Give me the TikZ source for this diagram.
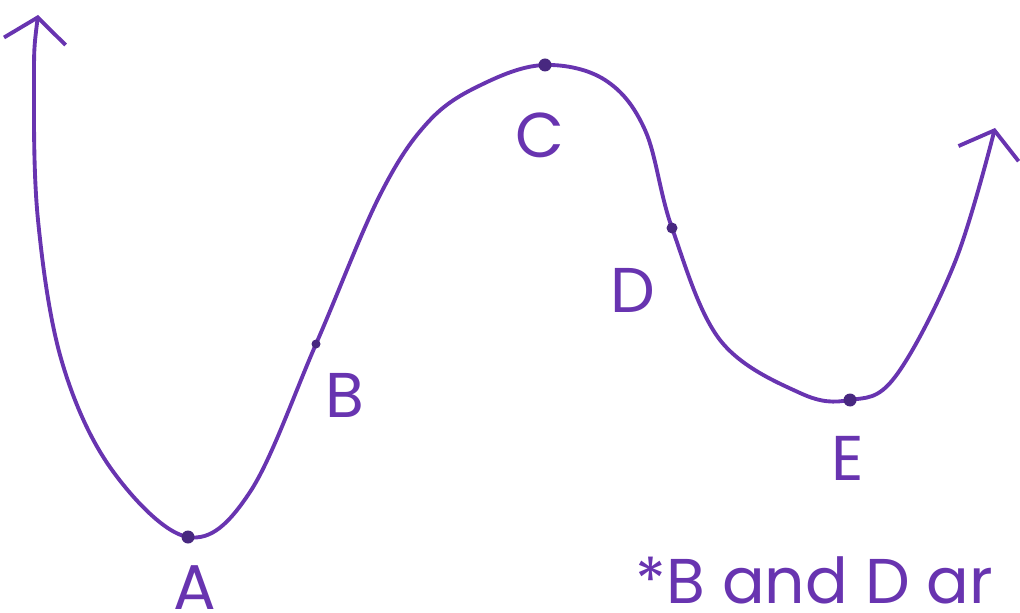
\documentclass[tikz,border=0pt]{standalone}
\usepackage{fontspec}
\setmainfont{Poppins}
\usetikzlibrary{arrows.meta,positioning}
\definecolor{penpurple}{RGB}{104,52,176}
\definecolor{dotpurple}{RGB}{72,40,128}

\begin{document}
\begin{tikzpicture}[>={Straight Barb[length=2.4mm,width=6.2mm,line width=1.1pt]},
  curve/.style={draw=penpurple,line width=1.1pt,line cap=round,line join=round},
  pt/.style={circle,fill=dotpurple,inner sep=0pt,minimum size=1.3mm},
  lbl/.style={text=penpurple,font=\fontsize{18}{20}\selectfont,inner sep=0pt}]
  \path[use as bounding box,clip] (0,0) rectangle (10.2,6.12);
  % the curve
  \draw[curve,<->] plot[smooth,tension=0.6] coordinates {
    (0.38,5.97) (0.34,5.30) (0.38,3.92) (0.62,2.50) (1.12,1.42) (1.88,0.75)
    (2.50,1.20) (3.16,2.68) (3.80,4.17) (4.30,4.92) (4.85,5.29) (5.45,5.47) (6.05,5.32)
    (6.45,4.82) (6.72,3.84) (7.20,2.72) (8.00,2.19) (8.50,2.12) (8.95,2.35) (9.55,3.50) (9.95,4.84)};
  % points
  \node[pt] (A) at (1.88,0.75) {};
  \node[pt,minimum size=0.9mm] (B) at (3.16,2.68) {};
  \node[pt] (C) at (5.45,5.47) {};
  \node[pt,minimum size=1.1mm] (D) at (6.72,3.84) {};
  \node[pt] (E) at (8.50,2.12) {};
  % labels
  \node[lbl] (Alab) at (1.95,0.24) {A};
  \node[lbl] (Blab) at (3.45,2.17) {B};
  \node[lbl] (Clab) at (5.40,4.77) {C};
  \node[lbl] (Dlab) at (6.33,3.22) {D};
  \node[lbl] (Elab) at (8.48,1.54) {E};
  \node[lbl,anchor=west] (note) at (6.35,0.32) {*B and D ar};
\end{tikzpicture}
\end{document}
